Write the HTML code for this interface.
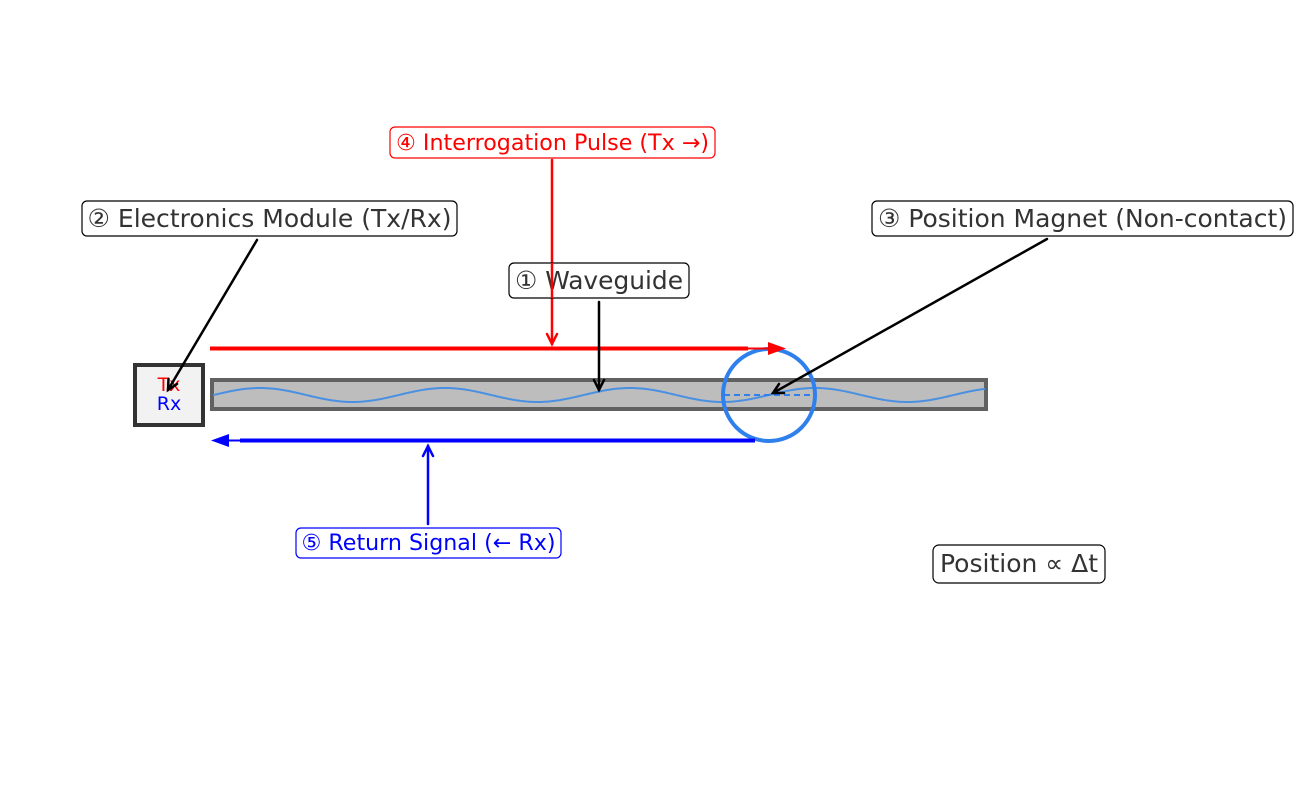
<!DOCTYPE html>
<html><head><meta charset="utf-8"><style>
html,body{margin:0;padding:0;background:#fff;}
svg{display:block;font-family:"DejaVu Sans","Liberation Sans",sans-serif;}
</style></head><body>
<svg width="1297" height="790" viewBox="0 0 1297 790" xmlns="http://www.w3.org/2000/svg">
<rect x="212" y="380" width="774" height="29" fill="#bdbdbd" stroke="#616161" stroke-width="4"/>
<polyline id="wave" fill="none" stroke="#4a90e2" stroke-width="2" points=""/>
<line x1="724" y1="395" x2="815" y2="395" stroke="#2f80ed" stroke-width="2" stroke-dasharray="6,4"/>
<circle cx="769" cy="395" r="46" fill="none" stroke="#2f80ed" stroke-width="4"/>
<rect x="135" y="365" width="68" height="60" fill="#f2f2f2" stroke="#333" stroke-width="4"/>
<text x="169" y="391" font-size="19" fill="#ff0000" text-anchor="middle">Tx</text>
<text x="169" y="410" font-size="19" fill="#0000ff" text-anchor="middle">Rx</text>
<line x1="210" y1="348.5" x2="748" y2="348.5" stroke="#ff0000" stroke-width="4"/>
<line x1="748" y1="348.5" x2="770" y2="348.5" stroke="#ff0000" stroke-width="2"/>
<polygon points="768,342 786,348.5 768,355" fill="#ff0000"/>
<line x1="240" y1="440.5" x2="755" y2="440.5" stroke="#0000ff" stroke-width="4"/>
<line x1="226" y1="440.5" x2="240" y2="440.5" stroke="#0000ff" stroke-width="2"/>
<polygon points="229,434 211,440.5 229,447" fill="#0000ff"/>
<g stroke-width="2.5" fill="none" stroke-linecap="round">
<line x1="552" y1="160" x2="552" y2="344" stroke="#ff0000"/>
<polyline points="547,334 552,344 557,334" stroke="#ff0000"/>
<line x1="599" y1="302" x2="599" y2="390" stroke="#000"/>
<polyline points="594,380 599,390 604,380" stroke="#000"/>
<line x1="257" y1="240" x2="168" y2="390" stroke="#000"/>
<polyline points="168.5,379 168,390 177,384" stroke="#000"/>
<line x1="1047" y1="239" x2="773" y2="393" stroke="#000"/>
<polyline points="779,384 773,393 784,393" stroke="#000"/>
<line x1="428" y1="524" x2="428" y2="446" stroke="#0000ff"/>
<polyline points="423,456 428,446 433,456" stroke="#0000ff"/>
</g>
<rect x="390" y="127" width="325" height="31" rx="5" fill="#fff" stroke="#ff0000" stroke-width="1.2"/>
<text x="552.5" y="150" font-size="22" fill="#ff0000" text-anchor="middle" textLength="313" lengthAdjust="spacingAndGlyphs">④ Interrogation Pulse (Tx →)</text>
<rect x="82" y="201" width="375" height="35" rx="5" fill="#fff" stroke="#000" stroke-width="1.2"/>
<text x="269.5" y="227" font-size="25" fill="#333" text-anchor="middle" textLength="364" lengthAdjust="spacingAndGlyphs">② Electronics Module (Tx/Rx)</text>
<rect x="872" y="201" width="421" height="35" rx="5" fill="#fff" stroke="#000" stroke-width="1.2"/>
<text x="1082.5" y="227" font-size="25" fill="#333" text-anchor="middle" textLength="409" lengthAdjust="spacingAndGlyphs">③ Position Magnet (Non-contact)</text>
<rect x="509" y="263" width="180" height="35" rx="5" fill="#fff" stroke="#000" stroke-width="1.2"/>
<text x="599" y="289" font-size="25" fill="#333" text-anchor="middle" textLength="168" lengthAdjust="spacingAndGlyphs">① Waveguide</text>
<line x1="552" y1="263" x2="552" y2="298" stroke="#ff0000" stroke-width="2.5"/>
<rect x="296" y="528" width="265" height="30" rx="5" fill="#fff" stroke="#0000ff" stroke-width="1.2"/>
<text x="428.5" y="550" font-size="22" fill="#0000ff" text-anchor="middle" textLength="254" lengthAdjust="spacingAndGlyphs">⑤ Return Signal (← Rx)</text>
<rect x="933" y="545" width="172" height="38" rx="6" fill="#fff" stroke="#000" stroke-width="1.2"/>
<text x="1019" y="572" font-size="25" fill="#333" text-anchor="middle" textLength="158" lengthAdjust="spacingAndGlyphs">Position ∝ Δt</text>
</svg>
<script>
var p=[];for(var x=213;x<=985;x+=2){p.push(x+","+(395-7*Math.cos(2*Math.PI*(x-260)/185)).toFixed(2));}
document.getElementById("wave").setAttribute("points",p.join(" "));
</script>
</body></html>
